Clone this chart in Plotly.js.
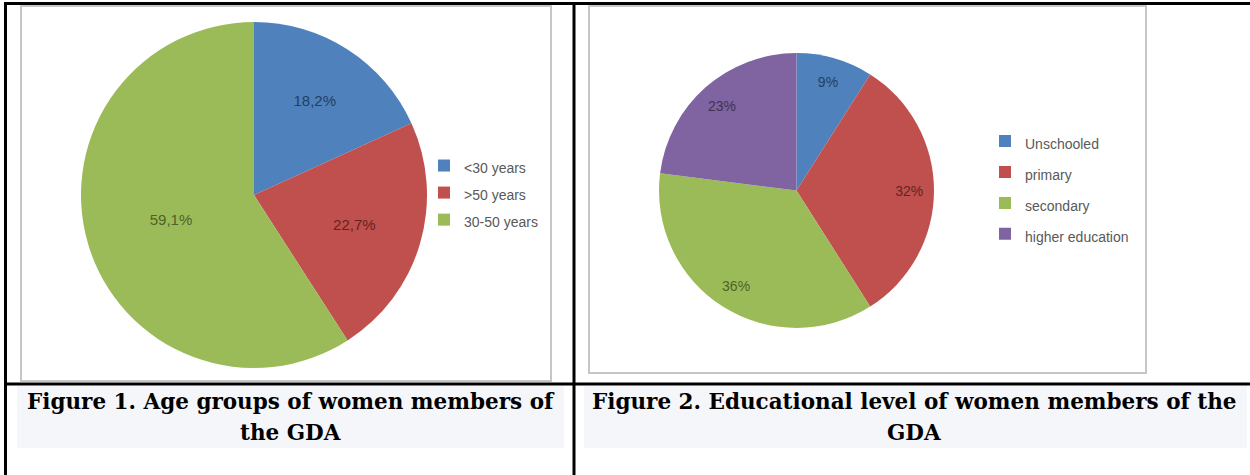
<!DOCTYPE html>
<html>
<head>
<meta charset="utf-8">
<script src="https://cdn.plot.ly/plotly-3.0.1.min.js"></script>
<style>
  html, body { margin: 0; padding: 0; background: #ffffff; }
  #chart { width: 1250px; height: 475px; }
</style>
</head>
<body>
<div id="chart"></div>
<script>
// ---- Data ----
var ageLabels = ['<30 years', '>50 years', '30-50 years'];
var ageValues = [18.2, 22.7, 59.1];
var ageColors = ['#4F81BD', '#C0504D', '#9BBB59'];
var ageTextColors = ['#243F60', '#632423', '#4F6228'];

var eduLabels = ['Unschooled', 'primary', 'secondary', 'higher education'];
var eduValues = [9, 32, 36, 23];
var eduColors = ['#4F81BD', '#C0504D', '#9BBB59', '#8064A2'];
var eduTextColors = ['#243F60', '#632423', '#4F6228', '#3F3151'];

var caption1 = ['Figure 1. Age groups of women members of', 'the GDA'];
var caption2 = ['Figure 2. Educational level of women members of the', 'GDA'];

// ---- helpers (layout positions in pixels -> paper) ----
var W = 1250, H = 475;
function px(x) { return x / W; }
function py(y) { return 1 - y / H; }
function esc(s) { return s.replace(/</g, '&lt;').replace(/>/g, '&gt;'); }
function legendName(s, size) { return '<span style="font-size:' + size + 'px">' + esc(s) + '</span>'; }

var labelFont = 'Liberation Sans, Arial, sans-serif';

var dom1 = { x: [px(81), px(427)], y: [py(368), py(22)] };
var dom2 = { x: [px(659), px(934)], y: [py(328), py(53)] };

var pie1 = {
  type: 'pie',
  labels: ageLabels.map(function (l) { return legendName(l, 14); }),
  values: ageValues,
  text: ageValues.map(function (v) { return v.toFixed(1).replace('.', ',') + '%'; }),
  textinfo: 'text',
  textposition: 'inside',
  insidetextorientation: 'horizontal',
  insidetextfont: { family: labelFont, size: 15, color: ageTextColors },
  sort: false,
  direction: 'clockwise',
  rotation: 0,
  marker: { colors: ageColors, line: { width: 0 } },
  domain: dom1,
  hoverinfo: 'none',
  legend: 'legend'
};

var pie2 = {
  type: 'pie',
  labels: eduLabels.map(function (l) { return legendName(l, 14); }),
  values: eduValues,
  textinfo: 'none',
  sort: false,
  direction: 'clockwise',
  rotation: 0,
  marker: { colors: eduColors, line: { width: 0 } },
  domain: dom2,
  hoverinfo: 'none',
  legend: 'legend2'
};

// transparent ring on top of pie 2, carrying its data labels near the outer edge
var pie2Labels = {
  type: 'pie',
  labels: eduLabels,
  values: eduValues,
  text: eduValues.map(function (v) { return v + '%'; }),
  textinfo: 'text',
  textposition: 'inside',
  insidetextorientation: 'horizontal',
  insidetextfont: { family: labelFont, size: 14, color: eduTextColors },
  hole: 0.64,
  sort: false,
  direction: 'clockwise',
  rotation: 0,
  marker: { colors: eduValues.map(function () { return 'rgba(0,0,0,0)'; }), line: { width: 0 } },
  domain: dom2,
  hoverinfo: 'none',
  showlegend: false
};

var black = '#000000';
var shapes = [
  // table borders
  { type: 'line', xref: 'paper', yref: 'paper', x0: px(4), x1: px(1250), y0: py(3.5), y1: py(3.5), line: { color: black, width: 3 } },
  { type: 'line', xref: 'paper', yref: 'paper', x0: px(5.5), x1: px(5.5), y0: py(2), y1: py(475), line: { color: black, width: 3 } },
  { type: 'line', xref: 'paper', yref: 'paper', x0: px(574), x1: px(574), y0: py(2), y1: py(475), line: { color: black, width: 3 } },
  { type: 'line', xref: 'paper', yref: 'paper', x0: px(4), x1: px(1250), y0: py(384), y1: py(384), line: { color: black, width: 3 } },
  // chart frames
  { type: 'rect', xref: 'paper', yref: 'paper', x0: px(21), x1: px(551), y0: py(6), y1: py(381), line: { color: '#c6c6c6', width: 2 } },
  { type: 'rect', xref: 'paper', yref: 'paper', x0: px(589), x1: px(1146), y0: py(6), y1: py(373), line: { color: '#c6c6c6', width: 2 } },
  // caption backgrounds
  { type: 'rect', xref: 'paper', yref: 'paper', x0: px(17), x1: px(564), y0: py(386), y1: py(448), fillcolor: '#f4f6f9', line: { width: 0 }, layer: 'below' },
  { type: 'rect', xref: 'paper', yref: 'paper', x0: px(584), x1: px(1247), y0: py(386), y1: py(448), fillcolor: '#f4f6f9', line: { width: 0 }, layer: 'below' }
];

var capFont = { family: 'DejaVu Serif, serif', size: 21.5, color: '#000000', weight: 'bold' };
function cap(text, xc, yc) {
  return { text: '<b>' + text + '</b>', xref: 'paper', yref: 'paper', x: px(xc), y: py(yc),
           xanchor: 'center', yanchor: 'middle', showarrow: false, font: capFont };
}
var annotations = [
  cap(caption1[0], 290.5, 401), cap(caption1[1], 290.5, 432),
  cap(caption2[0], 914, 401), cap(caption2[1], 914, 432)
];

var layout = {
  width: W, height: H,
  margin: { l: 0, r: 0, t: 0, b: 0 },
  paper_bgcolor: '#ffffff',
  showlegend: true,
  legend: {
    x: px(424), y: py(193), xanchor: 'left', yanchor: 'middle',
    bgcolor: 'rgba(0,0,0,0)', borderwidth: 0,
    font: { family: labelFont, size: 18.5, color: '#595959' },
    traceorder: 'normal'
  },
  legend2: {
    x: px(985), y: py(187.5), xanchor: 'left', yanchor: 'middle',
    bgcolor: 'rgba(0,0,0,0)', borderwidth: 0,
    font: { family: labelFont, size: 21.5, color: '#595959' },
    traceorder: 'normal'
  },
  shapes: shapes,
  annotations: annotations
};

Plotly.newPlot('chart', [pie1, pie2, pie2Labels], layout, { displayModeBar: false, staticPlot: true });
</script>
</body>
</html>
